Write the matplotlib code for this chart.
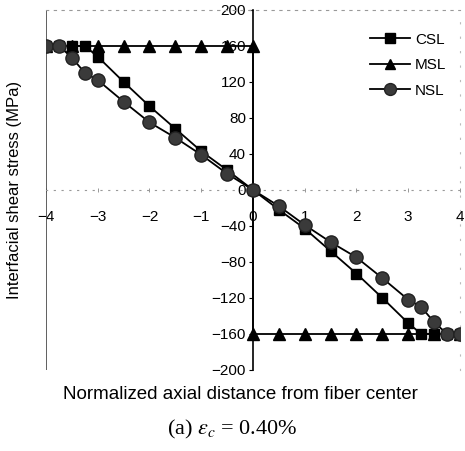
import numpy as np
import matplotlib.pyplot as plt

plt.rcParams['font.family'] = ['Liberation Sans', 'DejaVu Sans']

# normalized axial distance and interfacial shear stress (MPa)
csl_x = [-4, -3.75, -3.5, -3.25, -3, -2.5, -2, -1.5, -1, -0.5, 0,
         0.5, 1, 1.5, 2, 2.5, 3, 3.25, 3.5, 3.75, 4]
csl_y = [160, 160, 160, 160, 148, 120, 93, 68, 43, 22, 0,
         -22, -43, -68, -93, -120, -148, -160, -160, -160, -160]

msl_x = [-4, -3.5, -3, -2.5, -2, -1.5, -1, -0.5, 0,
         0, 0.5, 1, 1.5, 2, 2.5, 3, 3.5, 4]
msl_y = [160, 160, 160, 160, 160, 160, 160, 160, 160,
         -160, -160, -160, -160, -160, -160, -160, -160, -160]

nsl_x = [-4, -3.75, -3.5, -3.25, -3, -2.5, -2, -1.5, -1, -0.5, 0,
         0.5, 1, 1.5, 2, 2.5, 3, 3.25, 3.5, 3.75, 4]
nsl_y = [160, 160, 147, 130, 122, 98, 75, 58, 39, 18, 0,
         -18, -39, -58, -75, -98, -122, -130, -147, -160, -160]

xticks = [-4, -3, -2, -1, 0, 1, 2, 3, 4]
yticks = [-200, -160, -120, -80, -40, 0, 40, 80, 120, 160, 200]

fig = plt.figure(figsize=(4.65, 4.51), dpi=100)
ax = fig.add_axes([0.099, 0.180, 0.89, 0.798])

ax.plot(csl_x, csl_y, color='black', lw=1.3, marker='s', ms=7.5,
        mfc='black', mec='black', label='CSL', zorder=3)
ax.plot(msl_x, msl_y, color='black', lw=1.3, marker='^', ms=8,
        mfc='black', mec='black', label='MSL', zorder=3)
ax.plot(nsl_x, nsl_y, color='black', lw=1.3, marker='o', ms=9.5,
        mfc='#3a3a3a', mec='#222222', label='NSL', zorder=4)

ax.set_xlim(-4, 4)
ax.set_ylim(-200, 200)
ax.set_xticks(xticks)
ax.set_yticks(yticks)
ax.set_xticklabels(['\u2212%d' % -t if t < 0 else str(t) for t in xticks])
ax.set_yticklabels(['\u2212%d' % -t if t < 0 else str(t) for t in yticks])

# axes cross at the origin
ax.spines['left'].set_position(('data', 0))
ax.spines['left'].set_color('black')
ax.spines['left'].set_linewidth(1.2)
ax.spines['bottom'].set_position(('data', 0))
ax.spines['bottom'].set_color('#999999')
ax.spines['bottom'].set_linestyle((0, (1, 6)))
ax.spines['top'].set_color('#999999')
ax.spines['top'].set_linestyle((0, (2, 5)))
ax.spines['right'].set_color('#bbbbbb')
ax.spines['right'].set_linestyle((0, (1, 12)))
ax.axvline(-4, color='#444444', lw=1.2)

ax.tick_params(axis='y', direction='out', length=3, width=0.8, labelsize=11,
               pad=2)
ax.tick_params(axis='x', direction='inout', length=3, width=0.6,
               color='#888888', labelsize=11, pad=13)

ax.set_xlabel('Normalized axial distance from fiber center', fontsize=13.5)
ax.xaxis.set_label_coords(0.47, -0.045)
ax.set_ylabel('Interfacial shear stress (MPa)', fontsize=12)
ax.yaxis.set_label_coords(-0.058, 0.5)

ax.legend(loc='upper right', bbox_to_anchor=(1.0, 0.975), frameon=False,
          fontsize=11, handlelength=2.6, labelspacing=0.75,
          handletextpad=0.3, markerscale=0.9)

fig.text(0.5, 0.047, r'(a) $\varepsilon_c$ = 0.40%', ha='center',
         va='center', fontsize=16, family='Liberation Serif',
         math_fontfamily='stix')

fig.savefig('out.png', dpi=100)
